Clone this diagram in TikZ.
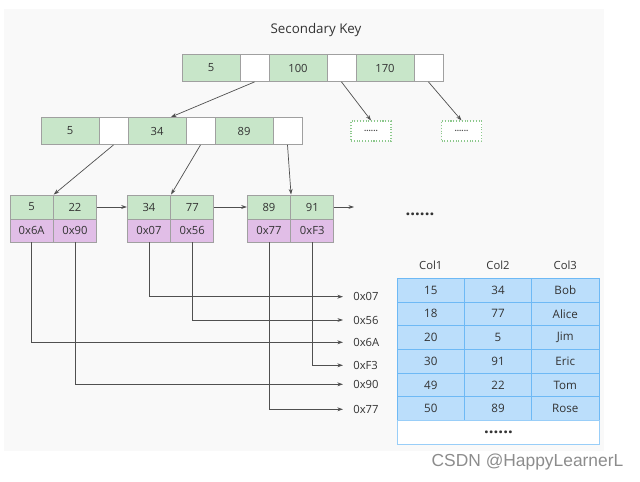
\documentclass[tikz,border=0pt]{standalone}
\usepackage{fontspec}
\setmainfont{Open Sans}
\newfontfamily\marcafont{Liberation Sans}
\usepackage{xcolor}
\usepackage{tikz}
\usetikzlibrary{arrows.meta, positioning, calc}
\definecolor{Fondo}   {RGB}{249,249,249}
\definecolor{Clave}   {RGB}{200,230,201}
\definecolor{Puntero} {RGB}{225,190,231}
\definecolor{Fila}    {RGB}{187,222,251}
\definecolor{Borde}   {RGB}{110,185,245}
\definecolor{Caja}    {RGB}{160,160,160}
\definecolor{Linea}   {RGB}{80, 80, 80}
\definecolor{Texto}   {RGB}{51, 51, 51}
\definecolor{Punteado}{RGB}{140,200,140}

\begin{document}
\begin{tikzpicture}[x=0.02cm,y=-0.02cm,
    celda/.style={draw=Caja,line width=0.5pt,inner sep=0pt,text=Texto,font=\fontsize{6.4}{7}\selectfont},
    flecha/.style={-{Stealth[length=3.2pt,width=2.2pt]},Linea,line width=0.4pt},
    puntos/.style={font=\bfseries\fontsize{9.5}{10}\selectfont,text=Texto}]
  \useasboundingbox (0,0) rectangle (640,482);
  \fill[Fondo] (4,9) rectangle (604,451);

  \node[font=\fontsize{7.6}{9}\selectfont,text=Texto] (titulo) at (316,30) {Secondary Key};

  % raiz
  \foreach \n/\x/\w/\t/\c in {1/211/58/5/Clave,2/254.5/29/{}/white,3/298/58/100/Clave,
                              4/341.5/29/{}/white,5/385/58/170/Clave,6/428.5/29/{}/white}{
    \node[celda,fill=\c,minimum width=\w*0.02cm,minimum height=27*0.02cm] (r\n) at (\x,68) {\t};
  }
  % nivel intermedio
  \foreach \n/\x/\w/\t/\c in {1/70/58/5/Clave,2/113.5/29/{}/white,3/157/58/34/Clave,
                              4/200.5/29/{}/white,5/244/58/89/Clave,6/287.5/29/{}/white}{
    \node[celda,fill=\c,minimum width=\w*0.02cm,minimum height=27*0.02cm] (m\n) at (\x,131) {\t};
  }
  \foreach \n/\x in {1/371,2/461.5}{
    \node[draw=Punteado,densely dotted,line width=0.6pt,fill=white,minimum width=40*0.02cm,minimum height=20*0.02cm,
          inner sep=0pt,text=Linea,font=\bfseries\fontsize{4.6}{5}\selectfont] (d\n) at (\x,131) {......};
  }

  % hojas
  \foreach \h/\x/\ka/\kb/\pa/\pb in {1/10/5/22/0x6A/0x90,2/127.3/34/77/0x07/0x56,3/247.3/89/91/0x77/0xF3}{
    \node[celda,fill=Clave,minimum width=43.3*0.02cm,minimum height=24*0.02cm] (k\h1) at (\x+21.65,207) {\ka};
    \node[celda,fill=Clave,minimum width=43.3*0.02cm,minimum height=24*0.02cm] (k\h2) at (\x+64.95,207) {\kb};
    \node[celda,fill=Puntero,minimum width=43.3*0.02cm,minimum height=23*0.02cm] (p\h1) at (\x+21.65,230.5) {\pa};
    \node[celda,fill=Puntero,minimum width=43.3*0.02cm,minimum height=23*0.02cm] (p\h2) at (\x+64.95,230.5) {\pb};
  }
  \coordinate (fin) at (354,207);
  \node[puntos] (mas) at (420,214) {......};

  % enlaces del arbol
  \draw[flecha] (r2.south) -- (m3.45);
  \draw[flecha] (r4.south) -- (d1.north);
  \draw[flecha] (r6.south) -- (d2.north);
  \draw[flecha] (m2.south) -- (k11.north east);
  \draw[flecha] (m4.south) -- (k21.north east);
  \draw[flecha] (m6.south) -- (k31.north east);
  \draw[flecha] (k12.east) -- (k21.west);
  \draw[flecha] (k22.east) -- (k31.west);
  \draw[flecha] (k32.east) -- (fin);

  % punteros a filas
  \foreach \n/\y/\t/\p in {07/296.7/0x07/p21,56/320/0x56/p22,6A/342.3/0x6A/p11,
                           F3/365.3/0xF3/p32,90/384.3/0x90/p12,77/409.3/0x77/p31}{
    \node[anchor=west,inner sep=2pt,text=Texto,font=\fontsize{6.4}{7}\selectfont] (a\n) at (349.5,\y) {\t};
    \draw[flecha,shorten >=3.7pt] (\p.south) |- (a\n.west);
  }

  % tabla
  \foreach \c/\x in {1/430.8,2/498,3/565.3}{
    \node[text=Texto,font=\fontsize{6.4}{7}\selectfont] (col\c) at (\x,265) {Col\c};
  }
  \foreach \va/\vb/\vc [count=\i] in {15/34/Bob,18/77/Alice,20/5/Jim,30/91/Eric,49/22/Tom,50/89/Rose}{
    \foreach \c/\x/\v in {1/430.8/\va,2/498/\vb,3/565.3/\vc}{
      \node[celda,draw=Borde,fill=Fila,minimum width=67.3*0.02cm,minimum height=23.7*0.02cm,
            font=\fontsize{6.6}{7}\selectfont] (t\i\c) at (\x,278.3+23.7*\i-11.85) {\v};
    }
  }
  \node[draw=Borde!70,line width=0.6pt,fill=white,minimum width=202*0.02cm,minimum height=24*0.02cm,inner sep=0pt,
        puntos] (resto) at (498.5,432.8) {......};

  \node[font=\marcafont\fontsize{9.9}{11}\selectfont,text=black!45] (marca) at (527.5,462) {CSDN @HappyLearnerL};
\end{tikzpicture}
\end{document}
